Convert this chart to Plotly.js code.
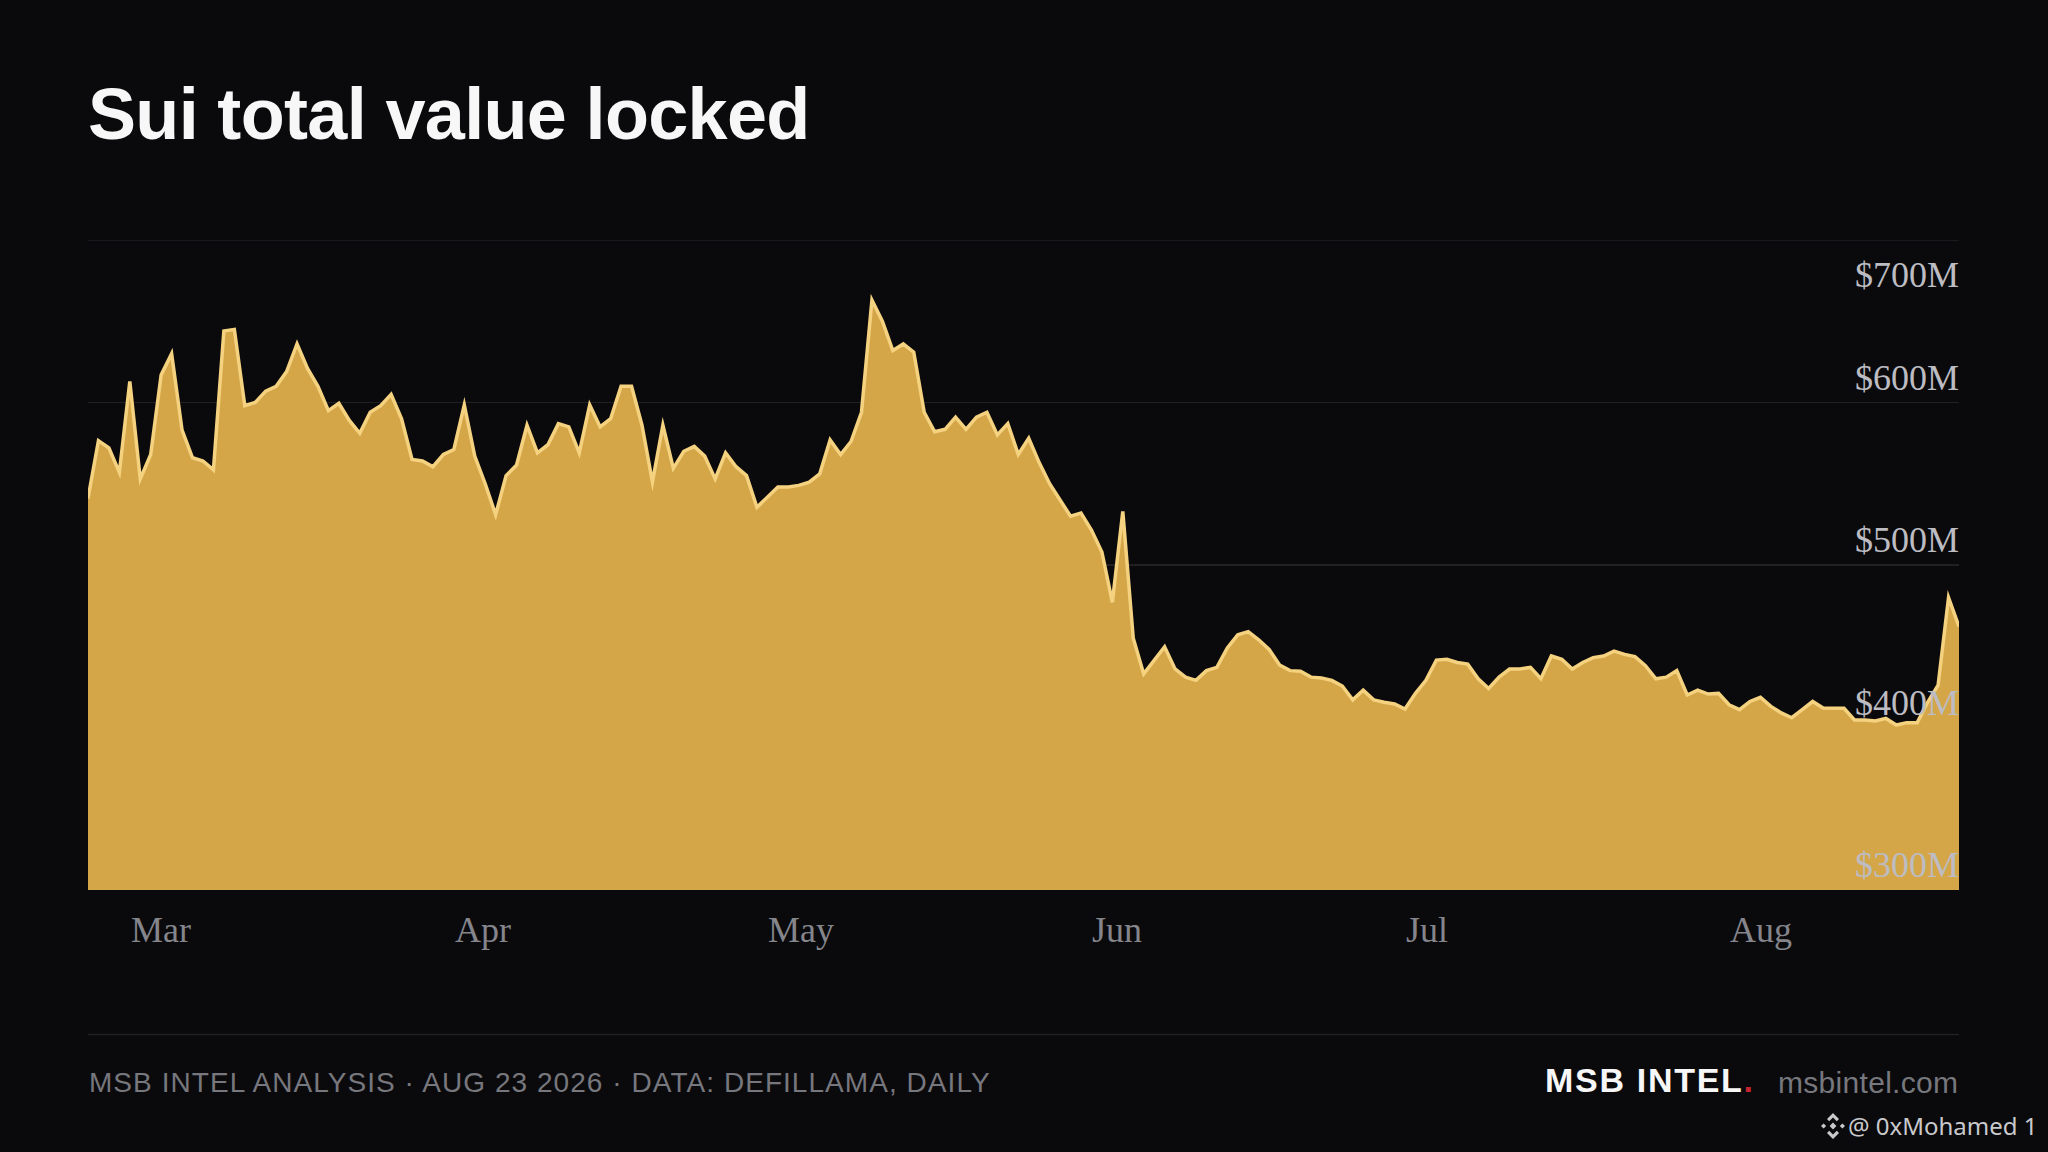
<!DOCTYPE html>
<html>
<head>
<meta charset="utf-8">
<script src="https://cdn.plot.ly/plotly-3.0.1.min.js"></script>
<style>
  html, body { margin: 0; padding: 0; background: #0a0a0c; }
  #chart { width: 2048px; height: 1152px; }
  .js-line { stroke-linejoin: miter !important; stroke-miterlimit: 6 !important; }
</style>
</head>
<body>
<div id="chart"></div>
<script>
// daily TVL in $M, Feb 25 to Aug 23 2026
var tvl = [
  541, 576.5, 572, 557, 613, 553, 568, 617, 630, 583,
  566, 564, 558.5, 644, 645, 598, 600, 607, 610, 619,
  636, 621, 610, 595, 599.5, 589, 581, 594, 598, 605,
  590, 565, 564, 560.5, 568, 571, 598.5, 567, 550, 531,
  555, 561.5, 586, 569, 574, 587, 585, 569, 598.5, 585,
  590, 610, 610, 586, 551, 586, 559.5, 570, 573, 567,
  553, 569, 560.5, 555, 535.5, 542, 548, 548, 549, 551,
  556, 577, 568, 576, 594, 663, 650, 632, 636, 631,
  594, 582, 583.5, 591, 583.5, 591, 594, 580, 587, 568,
  578, 563, 550, 540, 530, 532, 521.5, 508, 477, 533,
  455, 433, 441.5, 449.7, 436, 431, 429, 435, 437, 449,
  457, 459, 454, 448, 438.5, 435, 434.6, 431, 430.5, 429,
  425.5, 417, 423, 417, 415.5, 414.5, 411.4, 421, 429, 441.5,
  442, 440, 439, 430, 424, 431, 436, 436, 437, 430,
  444, 442, 436, 440, 443, 444, 447, 445, 443.6, 438,
  430, 431, 435, 420, 423, 420.6, 421, 414, 411, 416,
  418.6, 413, 409, 406, 411, 416, 412, 412, 411.8, 404.6,
  404.6, 404, 405.6, 401.5, 403, 403, 415.5, 426, 480, 462
];

var startDate = Date.UTC(2026, 1, 25);
var days = [];
for (let i = 0; i < tvl.length; i++) {
  days.push(new Date(startDate + i * 86400000).toISOString().slice(0, 10));
}

var monthDates = ['2026-03-01', '2026-04-01', '2026-05-01', '2026-06-01', '2026-07-01', '2026-08-01'];
var monthLabels = ['Mar', 'Apr', 'May', 'Jun', 'Jul', 'Aug'];
var yTicks = [300, 400, 500, 600, 700];
var yLabels = ['$300M', '$400M', '$500M', '$600M', '$700M'];

var titleText = 'Sui total value locked';
var footText = 'MSB INTEL ANALYSIS · AUG 23 2026 · DATA: DEFILLAMA, DAILY';
var brandText = 'MSB INTEL';
var siteText = 'msbintel.com';
var tagText = '@ 0xMohamed 1';

var W = 2048, H = 1152;
var m = { l: 88, r: 89, t: 240, b: 262 };
// pixel helpers for the furniture outside the plot area
function px(x) { return (x - m.l) / (W - m.l - m.r); }
function py(y) { return (H - m.b - y) / (H - m.t - m.b); }

var area = {
  x: days,
  y: tvl,
  type: 'scatter',
  mode: 'lines',
  fill: 'tozeroy',
  fillcolor: '#d4a648',
  line: { color: '#f5d27f', width: 3.5 },
  hoverinfo: 'skip'
};

var notes = [];

for (let i = 0; i < monthDates.length; i++) {
  notes.push({
    x: monthDates[i], xref: 'x', y: py(930), yref: 'paper',
    xanchor: 'left', yanchor: 'middle', showarrow: false,
    xshift: -1,
    text: monthLabels[i],
    font: { family: 'Liberation Serif', size: 36, color: '#85858c' }
  });
}

for (let i = 0; i < yTicks.length; i++) {
  // the top label sits under its gridline, the rest above
  var isTop = yTicks[i] == 700;
  notes.push({
    x: 1, xref: 'paper', y: yTicks[i], yref: 'y',
    xanchor: 'right', yanchor: isTop ? 'top' : 'bottom', showarrow: false,
    xshift: 2,
    yshift: isTop ? -13 : 3,
    text: yLabels[i],
    font: { family: 'Liberation Serif', size: 36, color: '#bcbcc2' }
  });
}

notes.push({
  x: 0, xref: 'paper', y: py(1082), yref: 'paper',
  xanchor: 'left', yanchor: 'middle', showarrow: false,
  xshift: -1,
  text: '<span style="letter-spacing:1.05px">' + footText + '</span>',
  font: { family: 'Liberation Sans', size: 28, color: '#77777e' }
});
notes.push({
  x: px(1757), xref: 'paper', y: py(1080), yref: 'paper',
  xanchor: 'right', yanchor: 'middle', showarrow: false,
  text: '<span style="letter-spacing:1.7px">' + brandText + '<span style="fill:#c8242f">.</span></span>',
  font: { family: 'Liberation Sans', size: 34, weight: 700, color: '#f7f7f7' }
});
notes.push({
  x: 1, xref: 'paper', y: py(1082), yref: 'paper',
  xanchor: 'right', yanchor: 'middle', showarrow: false,
  xshift: 1,
  text: '<span style="letter-spacing:0.3px">' + siteText + '</span>',
  font: { family: 'Liberation Sans', size: 30, color: '#77777e' }
});
notes.push({
  x: px(2040), xref: 'paper', y: py(1125), yref: 'paper',
  xanchor: 'right', yanchor: 'middle', showarrow: false,
  text: tagText,
  font: { family: 'Noto Sans', size: 24, color: '#c9c9cc' }
});

// little diamond logo in front of the handle
var logo = '<svg xmlns="http://www.w3.org/2000/svg" viewBox="0 0 26 26"><g fill="#c9c9cc">' +
  '<path d="M13 0l6 6-2.2 2.2L13 4.4 9.2 8.2 7 6z"/>' +
  '<path d="M13 26l6-6-2.2-2.2L13 21.6l-3.8-3.8L7 20z"/>' +
  '<path d="M13 9.6l3.4 3.4-3.4 3.4L9.6 13z"/>' +
  '<path d="M3.6 10.4L6.2 13l-2.6 2.6L1 13z"/>' +
  '<path d="M22.4 10.4L25 13l-2.6 2.6L19.8 13z"/></g></svg>';

var layout = {
  width: W,
  height: H,
  margin: m,
  paper_bgcolor: '#0a0a0c',
  plot_bgcolor: '#0a0a0c',
  showlegend: false,
  title: {
    text: '<span style="letter-spacing:-0.66px">' + titleText + '</span>',
    x: 0, xref: 'paper', xanchor: 'left',
    y: 1 - 114 / H, yanchor: 'middle',
    font: { family: 'Liberation Sans', size: 72, weight: 700, color: '#f7f7f7' }
  },
  xaxis: {
    type: 'date',
    range: [days[0], days[days.length - 1]],
    showgrid: false,
    zeroline: false,
    showticklabels: false,
    ticks: ''
  },
  yaxis: {
    range: [300, 700],
    tickvals: yTicks,
    showticklabels: false,
    ticks: '',
    gridcolor: '#212124',
    gridwidth: 1.5,
    zeroline: false
  },
  shapes: [{
    // plotly skips the grid at the range end, so the 700 line goes in by hand
    type: 'line', xref: 'paper', yref: 'y',
    x0: 0, x1: 1, y0: 700, y1: 700,
    line: { color: '#212124', width: 1.5 }
  }, {
    type: 'line', xref: 'paper', yref: 'paper',
    x0: 0, x1: 1, y0: py(1034.5), y1: py(1034.5),
    line: { color: '#212124', width: 1.5 }
  }],
  images: [{
    source: 'data:image/svg+xml;base64,' + btoa(logo),
    xref: 'paper', yref: 'paper',
    x: px(1820), y: py(1126), sizex: px(1846) - px(1820), sizey: py(1113) - py(1139),
    xanchor: 'left', yanchor: 'middle', layer: 'above'
  }],
  annotations: notes
};

Plotly.newPlot('chart', [area], layout, { displayModeBar: false, staticPlot: true });
</script>
</body>
</html>
